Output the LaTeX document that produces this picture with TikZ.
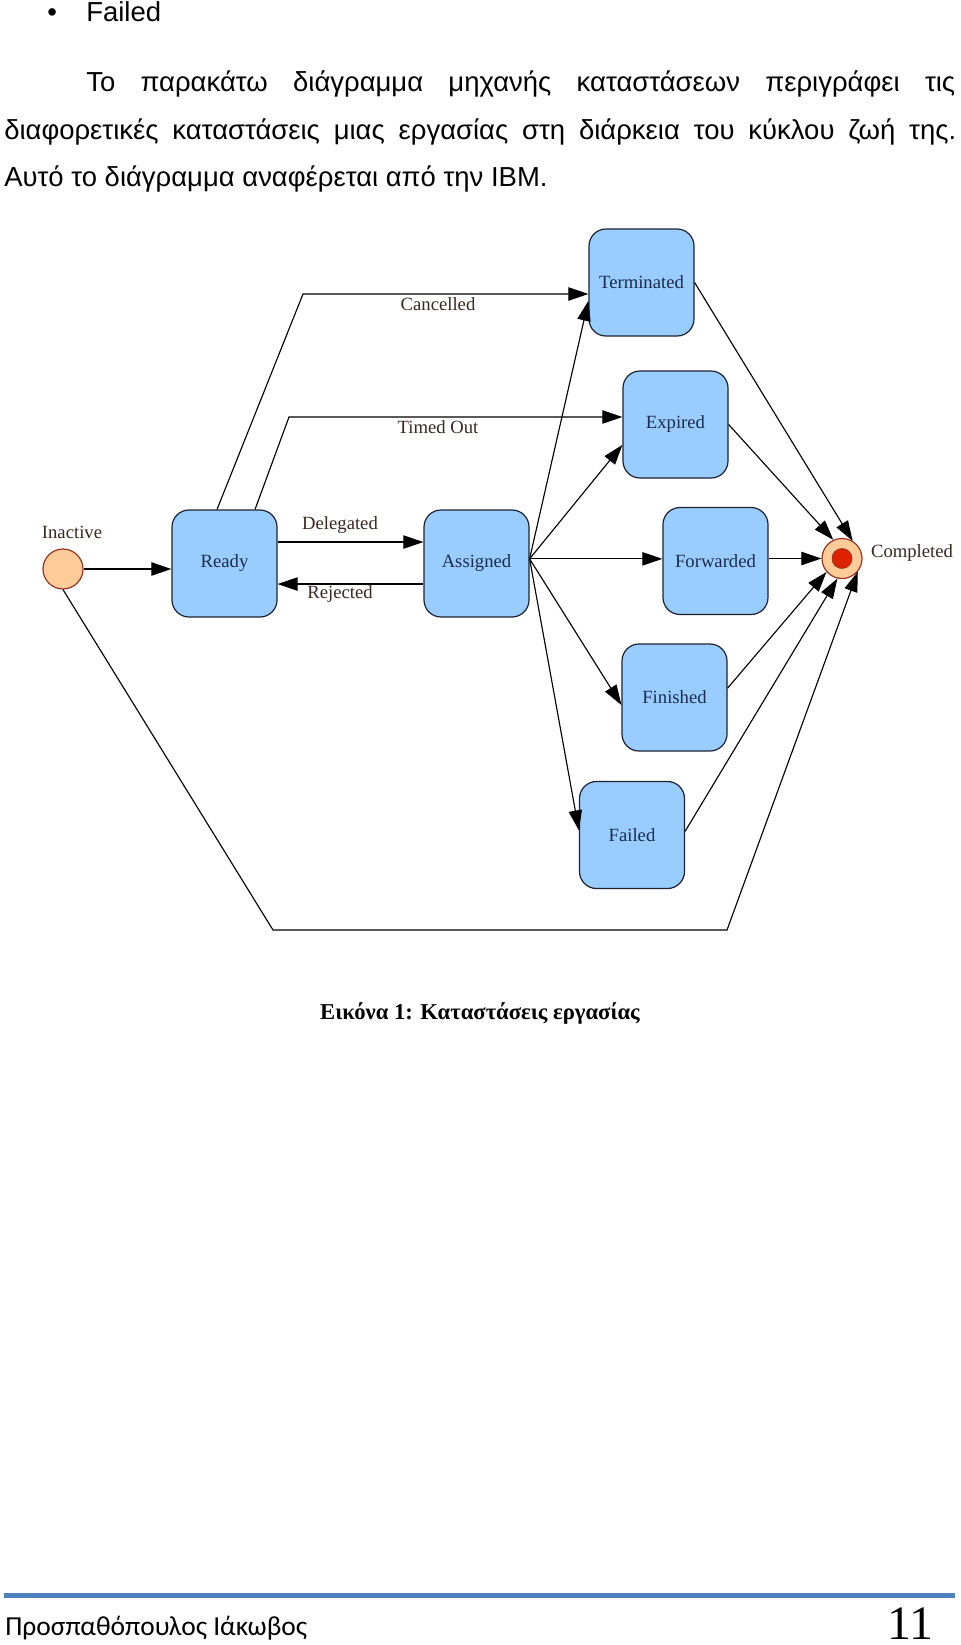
\documentclass[tikz,border=0pt]{standalone}
\usepackage{fontspec}
\setmainfont{Liberation Serif}
\newfontfamily\arialf{Liberation Sans}
\newfontfamily\calibrif{Carlito}
\usetikzlibrary{arrows.meta,calc}
\definecolor{boxfill}{HTML}{99CCFF}
\definecolor{boxdraw}{HTML}{1E2230}
\definecolor{boxtext}{HTML}{1C2C4C}
\definecolor{edgetext}{HTML}{3A2820}
\definecolor{peach}{HTML}{FFCC99}
\definecolor{darkred}{HTML}{993322}
\definecolor{redcore}{HTML}{DD2200}
\definecolor{barblue}{HTML}{4F81BD}
\begin{document}
\begin{tikzpicture}[x=0.75pt,y=-0.75pt,
  state/.style={draw=boxdraw, line width=0.9pt, fill=boxfill, rounded corners=12.75pt,
    minimum width=78.75pt, minimum height=80.25pt, inner sep=0pt, text=boxtext,
    font=\fontsize{14}{16}\selectfont},
  endstate/.style={circle, draw=darkred, fill=peach, line width=0.9pt, minimum size=30pt, inner sep=0pt},
  elabel/.style={text=edgetext, font=\fontsize{14}{16}\selectfont, inner sep=0pt},
  edge/.style={line width=0.85pt, -{Triangle[length=15pt,width=10pt]}},
  bodytext/.style={font=\arialf\fontsize{20.6}{24}\selectfont, inner sep=0pt, anchor=base west},
]
\useasboundingbox (0,0) rectangle (960,1645);
\fill[white] (0,0) rectangle (960,1645);

% body text
\node[bodytext] (bul) at (47,21.7) {•};
\node[bodytext] (fl) at (86,21.7) {Failed};
\node[bodytext] (l1) at (86,91) {\makebox[651.75pt][s]{Το παρακάτω διάγραμμα μηχανής καταστάσεων περιγράφει τις}};
\node[bodytext] (l2) at (4,139) {\makebox[714pt][s]{διαφορετικές καταστάσεις μιας εργασίας στη διάρκεια του κύκλου ζωή της.}};
\node[bodytext] (l3) at (4,186) {Αυτό το διάγραμμα αναφέρεται από την IBM.};

% states
\node[endstate] (Inactive) at (63,569) {};
\node[elabel] (InactiveL) at (72,532) {Inactive};
\node[state] (Ready) at (224.5,563.5) {Ready};
\node[state] (Assigned) at (476.5,563.5) {Assigned};
\node[state] (Terminated) at (641.5,282.5) {Terminated};
\node[state] (Expired) at (675.5,424.5) {Expired};
\node[state] (Forwarded) at (715.5,561) {Forwarded};
\node[state] (Finished) at (674.5,697.5) {Finished};
\node[state] (Failed) at (632,835) {Failed};
\node[endstate] (Completed) at (842,558.5) {};
\node[circle, fill=redcore, draw=darkred, line width=0.5pt, minimum size=15pt, inner sep=0pt] (CompletedCore) at (Completed) {};
\node[elabel] (CompletedL) at (912,553) {Completed};

% edges
\draw[edge] (Inactive.east) -- (Inactive.east -| Ready.west);
\draw[edge] ([yshift=16.1pt]Ready.east) -- ([yshift=16.1pt]Assigned.west);
\draw[edge] ([yshift=-15.4pt]Assigned.west) -- ([yshift=-15.4pt]Ready.east);
\node[elabel] (DelegatedL) at (340,525) {Delegated};
\node[elabel] (RejectedL) at (340,594) {Rejected};

\coordinate (cb) at (303,294);
\draw[edge] ([xshift=-5.6pt]Ready.north) -- (cb) -- (cb -| Terminated.west);
\coordinate (tb) at (289,417);
\draw[edge] ([xshift=22.9pt]Ready.north) -- (tb) -- (tb -| Expired.west);
\node[elabel] (CancelledL) at (438,304) {Cancelled};
\node[elabel] (TimedOutL) at (438,427) {Timed Out};

\draw[edge] (Assigned.5) -- (Terminated.199);
\draw[edge] (Assigned.5) -- (Expired.201);
\draw[edge] (Assigned.5) -- (Assigned.5 -| Forwarded.west);
\draw[edge] (Assigned.5) -- (Finished.188);
\draw[edge] (Assigned.5) -- (Failed.175);

\draw[edge] (Terminated.east) -- (Completed.59);
\draw[edge] (Expired.east) -- (Completed.115);
\draw[edge] (Forwarded.east |- Completed) -- (Completed.west);
\draw[edge] (Finished.10) -- (Completed.221);
\draw[edge] (Failed.4) -- (Completed.257);
\coordinate (bl) at (273,930);
\coordinate (br) at (727,930);
\draw[edge] (Inactive.south) -- (bl) -- (br) -- (Completed.-40);

% caption
\node[font=\bfseries\fontsize{17}{20}\selectfont, anchor=base, inner sep=0pt] (cap) at (480,1019) {Εικόνα 1: Καταστάσεις εργασίας};

% footer
\fill[barblue] (4,1593) rectangle (955,1598);
\node[font=\calibrif\fontsize{20.6}{24}\selectfont, anchor=base west, inner sep=0pt] (author) at (5,1635) {Προσπαθόπουλος Ιάκωβος};
\node[font=\fontsize{36}{40}\selectfont, anchor=base east, inner sep=0pt] (pagenum) at (934,1639) {11};
\end{tikzpicture}
\end{document}
